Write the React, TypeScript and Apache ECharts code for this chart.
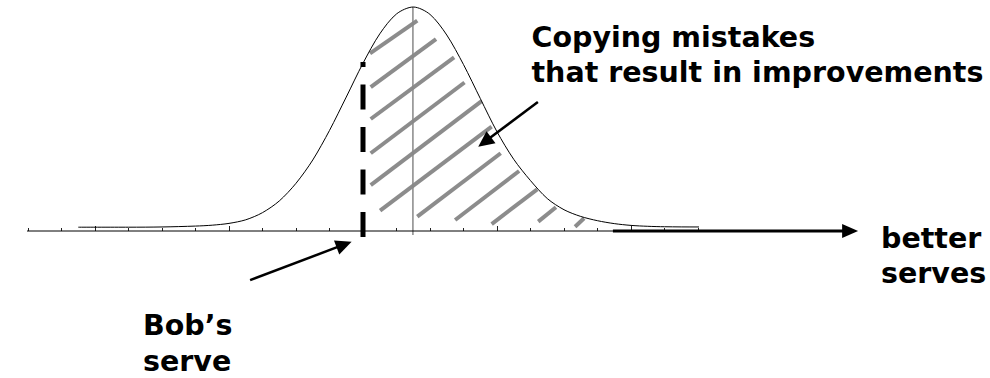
import React, { useEffect, useRef } from "react";
import * as echarts from "echarts";

// Bell curve of serve quality (x in tick units, y in % of peak height)
const curveX = [1.5, 3, 4, 5, 5.5, 6, 6.5, 7, 7.5, 8, 8.5, 9, 9.5, 10, 10.5, 11, 11.5, 12, 12.5, 13, 13.5, 14, 14.5, 15, 15.5, 16, 16.5, 17, 17.5, 18, 18.5, 19, 20, 21.55];
const curveY = [1.7, 1.7, 1.8, 2.2, 2.6, 3.4, 5.0, 8.2, 13.4, 21.3, 31.7, 44.9, 59.8, 74.9, 88.0, 96.9, 100, 96.7, 87.5, 74.3, 59.2, 44.3, 32.0, 22.5, 14.5, 9.5, 6.5, 4.6, 3.3, 2.5, 2.1, 1.9, 1.8, 1.8];

// Axis
const axisMin = 0;
const axisMax = 20;
const axisStart = -0.54;
const majorTicks = [2, 6, 10, 14, 18];

// Vertical reference lines: [x, yBottom, x, yTop]
const meanLine = [11.49, -1.8, 11.49, 100];
const bobServeLine = [10, -2.68, 10, 75.4];

// Hatch segments under the curve right of Bob's serve: [x1, y1, x2, y2]
const hatchSegments = [
  [10.21, 79.3, 11.62, 93.9],
  [10.23, 64.2, 12.18, 85.7],
  [10.23, 50.0, 12.72, 77.5],
  [10.23, 34.7, 13.03, 66.3],
  [10.23, 20.5, 13.54, 58.0],
  [10.51, 9.1, 13.84, 46.6],
  [11.62, 6.4, 14.11, 34.7],
  [12.75, 4.9, 14.66, 26.8],
  [13.84, 3.1, 15.2, 18.6],
  [15.23, 4.2, 15.76, 10.6],
  [16.33, 1.9, 16.6, 5.7],
];

// Arrows: [tailX, tailY, tipX, tipY]
const bobArrow = [6.63, -21.9, 9.66, -4.8];
const mistakesArrow = [15.22, 57.6, 13.44, 37.6];
const betterArrow = [17.46, 0, 24.78, 0];

// Labels
const mistakesLabel = ["Copying mistakes", "that result in improvements"];
const betterLabel = ["better", "serves"];
const bobLabel = ["Bob\u2019s", "serve"];

const FONT = "bold 28.5px 'DejaVu Sans'";

function segRender(stroke: string, width: number, dash?: number[]) {
  return (params: any, api: any) => {
    const p1 = api.coord([api.value(0), api.value(1)]);
    const p2 = api.coord([api.value(2), api.value(3)]);
    return {
      type: "line",
      shape: { x1: p1[0], y1: p1[1], x2: p2[0], y2: p2[1] },
      style: { stroke, lineWidth: width, lineCap: "butt", lineDash: dash || null, fill: null },
    };
  };
}

function arrowRender(width: number, headLen: number, headHalf: number) {
  return (params: any, api: any) => {
    const a = api.coord([api.value(0), api.value(1)]);
    const b = api.coord([api.value(2), api.value(3)]);
    const dx = b[0] - a[0];
    const dy = b[1] - a[1];
    const len = Math.sqrt(dx * dx + dy * dy);
    const ux = dx / len;
    const uy = dy / len;
    const bx = b[0] - ux * headLen;
    const by = b[1] - uy * headLen;
    return {
      type: "group",
      children: [
        {
          type: "line",
          shape: { x1: a[0], y1: a[1], x2: bx + ux * 2, y2: by + uy * 2 },
          style: { stroke: "#000", lineWidth: width, lineCap: "butt" },
        },
        {
          type: "polygon",
          shape: {
            points: [
              [b[0], b[1]],
              [bx - uy * headHalf, by + ux * headHalf],
              [bx + uy * headHalf, by - ux * headHalf],
            ],
          },
          style: { fill: "#000", stroke: null },
        },
      ],
    };
  };
}

function labelLines(lines: string[], x: number, baselines: number[]) {
  return lines.map((t, i) => ({
    type: "text",
    x,
    y: baselines[i] - 9.9,
    style: { text: t, font: FONT, fill: "#000", textAlign: "left", textVerticalAlign: "middle" },
    z: 10,
  }));
}

export default function App() {
  const ref = useRef<HTMLDivElement>(null);
  useEffect(() => {
    if (!ref.current) return;
    const chart = echarts.init(ref.current, null, { renderer: "svg" });
    const custom = (data: number[][], render: any, z: number) => ({
      type: "custom",
      data,
      dimensions: ["x1", "y1", "x2", "y2"],
      encode: { x: [0, 2], y: [1, 3] },
      renderItem: render,
      clip: false,
      silent: true,
      z,
    });
    chart.setOption({
      animation: false,
      backgroundColor: "#fff",
      grid: { left: 28, top: 7, width: 670, height: 224 },
      xAxis: [
        {
          type: "value",
          min: axisMin,
          max: axisMax,
          interval: 1,
          axisLine: { show: false },
          axisTick: { show: true, inside: true, length: 3, lineStyle: { color: "#222", width: 1 } },
          axisLabel: { show: false },
          splitLine: { show: false },
        },
        {
          type: "value",
          position: "bottom",
          min: axisMin,
          max: axisMax,
          axisLine: { show: false },
          axisTick: { show: true, inside: true, length: 5, customValues: majorTicks, lineStyle: { color: "#222", width: 1 } },
          axisLabel: { show: false },
          splitLine: { show: false },
        },
      ],
      yAxis: { type: "value", min: 0, max: 100, show: false },
      series: [
        custom(hatchSegments, segRender("#8c8c8c", 4), 1),
        custom([meanLine], segRender("#888", 1.5), 2),
        {
          type: "line",
          data: [[axisStart, 0], [axisMax, 0]],
          showSymbol: false,
          clip: false,
          lineStyle: { color: "#000", width: 1 },
          silent: true,
          z: 2,
        },
        {
          type: "line",
          data: curveX.map((x, i) => [x, curveY[i]]),
          smooth: 0.3,
          showSymbol: false,
          clip: false,
          lineStyle: { color: "#000", width: 1 },
          silent: true,
          z: 3,
        },
        custom([bobServeLine], segRender("#000", 5, [25, 17.5]), 4),
        custom([bobArrow], arrowRender(2.5, 16, 7.5), 5),
        custom([mistakesArrow], arrowRender(2.5, 16, 7.5), 5),
        custom([betterArrow], arrowRender(3, 16, 7), 5),
      ],
      graphic: [
        ...labelLines(mistakesLabel, 531.5, [47, 82]),
        ...labelLines(betterLabel, 881, [248.3, 283.3]),
        ...labelLines(bobLabel, 143, [335, 371.7]),
      ],
    });
    return () => chart.dispose();
  }, []);
  return <div ref={ref} style={{ position: "fixed", left: 0, top: 0, width: 990, height: 378, background: "#fff" }} />;
}
